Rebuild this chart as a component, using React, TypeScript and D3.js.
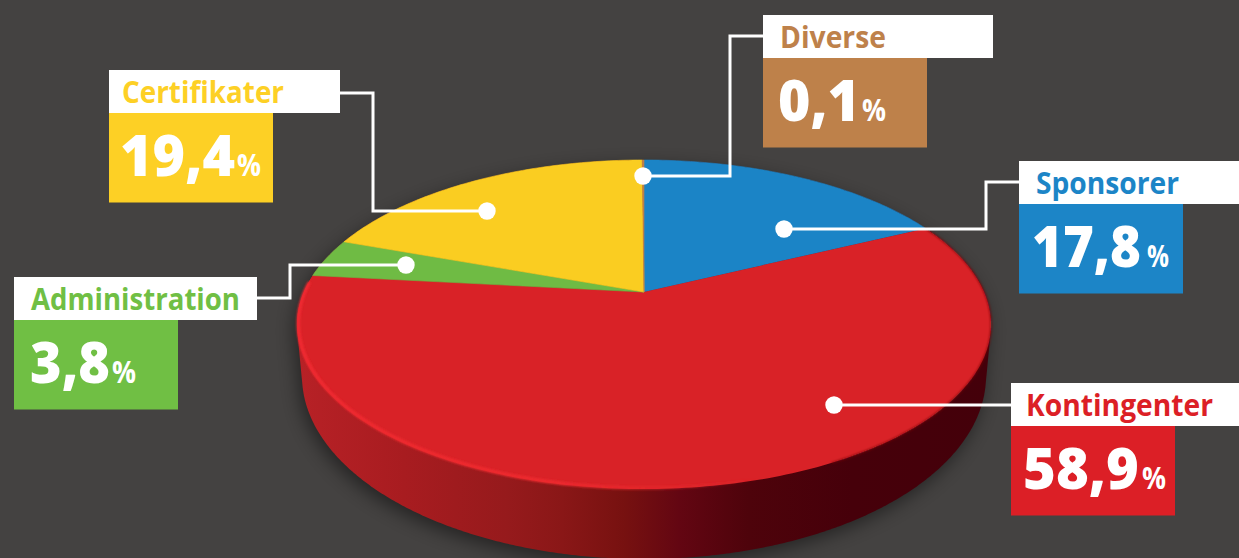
import React from "react";
import * as d3 from "d3";

const categories = ["Sponsorer", "Kontingenter", "Administration", "Certifikater", "Diverse"];
const shares = [17.8, 58.9, 3.8, 19.4, 0.1];
const sliceColors = ["#1b84c6", "#d92227", "#6fbb44", "#facd21", "#be814a"];
const boxColors = ["#1c85c7", "#dc1f26", "#70bf44", "#fdd025", "#be814a"];

// layout for each callout, same order as categories
const boxX = [1019, 1011, 14, 109, 763];
const boxY = [161, 383, 277, 70, 15];
const boxWhiteW = [220, 228, 243, 231, 230];
const nameDx = [17, 15, 17, 13, 17];
const nameW = [143, 187, 209, 162, 106];
const valueDx = [13, 12, 16, 11, 15];
const valueW = [109, 116, 80, 115, 82];
const percentDx = [128, 131, 98, 128, 99];
const percentW = [22, 24, 24, 24, 24];
const leaders: [number, number][][] = [
  [[1019, 182], [986, 182], [986, 229], [784, 229]],
  [[1011, 405], [834, 405]],
  [[257, 298], [290, 298], [290, 265], [406, 265]],
  [[340, 93], [373, 93], [373, 211], [487, 211]],
  [[763, 36], [730, 36], [730, 176], [643, 176]],
];

const W = 1239, H = 558;
const FONT = "'Open Sans', 'Noto Sans', sans-serif";
const CX = 644, APEX_Y = 292, PY = -0.1976, AY = 100.4, AX = 340.2;
const TOP = { cy: 324.5, rx: 347, ry: 164.5 };
const BOT = { cy: 376, rx: 342, ry: 183 };

// circle -> perspective view of the pie top
const project = (a: number): [number, number] => {
  const u = Math.sin(a), v = -Math.cos(a), d = 1 + PY * v;
  return [CX + (AX * u) / d, (APEX_Y + AY * v) / d];
};
const line = d3.line<[number, number]>().x((p) => p[0]).y((p) => p[1]);
const arcs = d3.pie<number>().sort(null).startAngle(0).endAngle(2 * Math.PI)(shares);
const sample = (a0: number, a1: number): [number, number][] => {
  const n = Math.max(2, Math.ceil((a1 - a0) * 60));
  return d3.range(n + 1).map((i) => project(a0 + ((a1 - a0) * i) / n));
};
const ellipsePts = (e: { cy: number; rx: number; ry: number }): [number, number][] =>
  d3.range(0, 720).map((i) => {
    const t = (i / 720) * 2 * Math.PI;
    return [CX + e.rx * Math.cos(t), e.cy + e.ry * Math.sin(t)] as [number, number];
  });
const hull = d3.polygonHull([...ellipsePts(TOP), ...ellipsePts(BOT)]) as [number, number][];
const hullPath = line(hull) + "Z";
const redArc = arcs[1];
const rimPts = sample(Math.PI * 0.9, redArc.endAngle - 0.05).map(
  ([x, y]) => [CX + (x - CX) * 0.996, y - 1] as [number, number]
);

const sideStops: [number, string][] = [
  [0, "#b72126"], [0.15, "#a81c20"], [0.3, "#961a1c"], [0.38, "#8a1717"],
  [0.47, "#771110"], [0.55, "#630612"], [0.65, "#4e030b"], [0.8, "#46000a"], [1, "#44000a"],
];

export default function App() {
  return (
    <svg width={W} height={H} style={{ position: "fixed", left: 0, top: 0, background: "#444241" }}>
      <defs>
        <linearGradient id="side" gradientUnits="userSpaceOnUse" x1={300} x2={990} y1={0} y2={0}>
          {sideStops.map(([o, c]) => <stop key={o} offset={o} stopColor={c} />)}
        </linearGradient>
        <linearGradient id="rim" gradientUnits="userSpaceOnUse" x1={300} x2={760} y1={0} y2={0}>
          <stop offset={0} stopColor="#f02a30" />
          <stop offset={0.55} stopColor="#ee2a2f" />
          <stop offset={1} stopColor="#ee2a2f" stopOpacity={0} />
        </linearGradient>
        <filter id="shadow" x="-10%" y="-10%" width="120%" height="130%">
          <feGaussianBlur stdDeviation={9} />
        </filter>
        <filter id="soft" x="-5%" y="-5%" width="110%" height="110%">
          <feGaussianBlur stdDeviation={0.9} />
        </filter>
      </defs>

      <path d={hullPath} fill="#000" opacity={0.45} filter="url(#shadow)" transform="translate(-3,6)" />
      <path d={hullPath} fill="url(#side)" />

      <g>
        {arcs.map((a, i) => (
          <path
            key={categories[i]}
            d={"M" + CX + "," + APEX_Y + "L" + (line(sample(a.startAngle, a.endAngle)) as string).slice(1) + "Z"}
            fill={sliceColors[i]}
            stroke={i === 1 ? "none" : sliceColors[i]}
            strokeWidth={0.6}
          />
        ))}
      </g>
      <path d={line(rimPts) as string} fill="none" stroke="url(#rim)" strokeWidth={3.5} filter="url(#soft)" />
      <path d={line(sample(redArc.startAngle, Math.PI * 0.85)) as string} fill="none" stroke="#7a0d12" strokeWidth={1.2} filter="url(#soft)" />

      {leaders.map((pts, i) => {
        const end = pts[pts.length - 1];
        return (
          <g key={categories[i]}>
            <path d={line(pts) as string} fill="none" stroke="#fff" strokeWidth={3} />
            <circle cx={end[0]} cy={end[1]} r={8.7} fill="#fff" />
          </g>
        );
      })}

      {categories.map((name, i) => {
        const x = boxX[i], y = boxY[i];
        const whole = shares[i].toFixed(1).replace(".", ",");
        const vx = x + valueDx[i], vy = y + 106;
        return (
          <g key={name} fontFamily={FONT}>
            <rect x={x} y={y + 43} width={164} height={89.5} fill={boxColors[i]} />
            <rect x={x} y={y} width={boxWhiteW[i]} height={43} fill="#fff" />
            <text x={x + nameDx[i]} y={y + 32.5} fontSize={31} fontWeight={700} fill={boxColors[i]} textLength={nameW[i]} lengthAdjust="spacingAndGlyphs">
              {name}
            </text>
            <text x={vx} y={vy} fontSize={57} fontWeight={800} fill="#fff" textLength={valueW[i]} lengthAdjust="spacingAndGlyphs">
              {whole}
            </text>
            <text x={x + percentDx[i]} y={vy} fontSize={31} fontWeight={700} fill="#fff" textLength={percentW[i]} lengthAdjust="spacingAndGlyphs">
              %
            </text>
          </g>
        );
      })}
    </svg>
  );
}
